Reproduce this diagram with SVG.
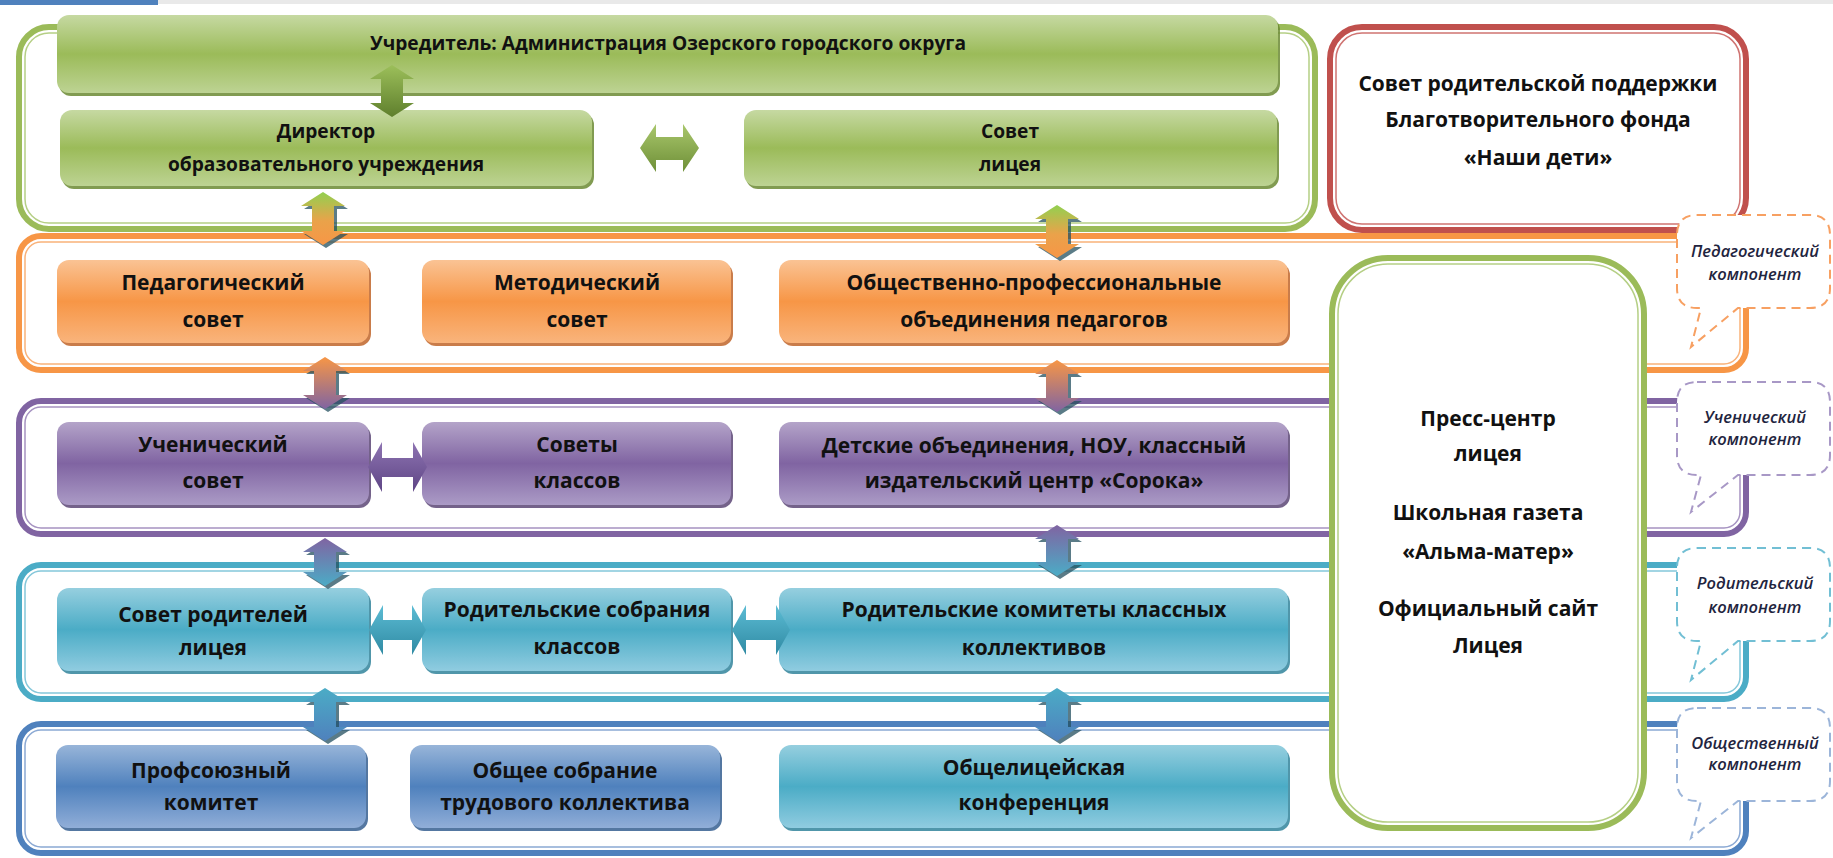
<svg xmlns="http://www.w3.org/2000/svg" width="1833" height="858" viewBox="0 0 1833 858">
<defs>
<linearGradient id="gG" x1="0" y1="0" x2="0" y2="1"><stop offset="0" stop-color="#c6d9a2"/><stop offset="0.5" stop-color="#9bbb59"/><stop offset="1" stop-color="#bdd393"/></linearGradient>
<linearGradient id="gO" x1="0" y1="0" x2="0" y2="1"><stop offset="0" stop-color="#fac394"/><stop offset="0.5" stop-color="#f79646"/><stop offset="1" stop-color="#f9b47c"/></linearGradient>
<linearGradient id="gP" x1="0" y1="0" x2="0" y2="1"><stop offset="0" stop-color="#b4a4c9"/><stop offset="0.5" stop-color="#8064a2"/><stop offset="1" stop-color="#ab9bc6"/></linearGradient>
<linearGradient id="gT" x1="0" y1="0" x2="0" y2="1"><stop offset="0" stop-color="#96cfdf"/><stop offset="0.5" stop-color="#4bacc6"/><stop offset="1" stop-color="#90cce0"/></linearGradient>
<linearGradient id="gB" x1="0" y1="0" x2="0" y2="1"><stop offset="0" stop-color="#98b5d9"/><stop offset="0.5" stop-color="#4f81bd"/><stop offset="1" stop-color="#91aed8"/></linearGradient>
<linearGradient id="aGd" x1="0" y1="0" x2="0" y2="1"><stop offset="0" stop-color="#9cbf5a"/><stop offset="1" stop-color="#5f7f2d"/></linearGradient>
<linearGradient id="aGh" x1="0" y1="0" x2="0" y2="1"><stop offset="0" stop-color="#a9c76c"/><stop offset="1" stop-color="#6e8f37"/></linearGradient>
<linearGradient id="aGO" x1="0" y1="0" x2="0" y2="1"><stop offset="0" stop-color="#92d050"/><stop offset="0.55" stop-color="#eaa24a"/><stop offset="1" stop-color="#f79646"/></linearGradient>
<linearGradient id="aOP" x1="0" y1="0" x2="0" y2="1"><stop offset="0" stop-color="#f79646"/><stop offset="1" stop-color="#8064a2"/></linearGradient>
<linearGradient id="aPT" x1="0" y1="0" x2="0" y2="1"><stop offset="0" stop-color="#8064a2"/><stop offset="1" stop-color="#4bacc6"/></linearGradient>
<linearGradient id="aTB" x1="0" y1="0" x2="0" y2="1"><stop offset="0" stop-color="#4bacc6"/><stop offset="1" stop-color="#4f81bd"/></linearGradient>
<linearGradient id="aPh" x1="0" y1="0" x2="0" y2="1"><stop offset="0" stop-color="#8e74b2"/><stop offset="1" stop-color="#5e4585"/></linearGradient>
<linearGradient id="aTh" x1="0" y1="0" x2="0" y2="1"><stop offset="0" stop-color="#5cbcd4"/><stop offset="1" stop-color="#2f8aa3"/></linearGradient>
<style>
.t{font-family:"Open Sans","Liberation Sans",sans-serif;font-weight:700;font-size:21px;fill:#111;text-anchor:middle}
.ts{font-size:19.2px}
.ti{font-family:"Open Sans","Liberation Sans",sans-serif;font-style:italic;font-weight:600;font-size:16.5px;fill:#1f2540;text-anchor:middle}
.fo{fill:none;stroke-width:6}
.fi{fill:none;stroke-width:1.5}
.sh{opacity:0.85}
.ash{fill:#24505f;opacity:0.75}
.co{fill:#fff;stroke-width:2;stroke-dasharray:9 6}
</style>
</defs>
<rect x="0" y="0" width="1833" height="858" fill="#fff"/>
<rect x="0" y="0" width="1833" height="4" fill="#e9e9e9"/>
<rect x="0" y="0" width="158" height="5" fill="#4f81bd"/>

<g id="frames">
<g id="frame-green"><rect class="fo" x="19" y="27" width="1296" height="202" rx="30" stroke="#9bbb59"/><rect class="fi" x="25" y="33" width="1284" height="190" rx="24" stroke="#b5cf85"/></g>
<g id="frame-red"><rect class="fo" x="1330" y="27" width="416" height="203" rx="32" stroke="#c0504d"/><rect class="fi" x="1336" y="33" width="404" height="191" rx="26" stroke="#cf7472"/></g>
<g id="frame-orange"><rect class="fo" x="19" y="236" width="1727" height="134" rx="22" stroke="#f79646"/><rect class="fi" x="25" y="242" width="1715" height="122" rx="16" stroke="#f9b27a"/></g>
<g id="frame-purple"><rect class="fo" x="19" y="401" width="1727" height="133" rx="22" stroke="#8064a2"/><rect class="fi" x="25" y="407" width="1715" height="121" rx="16" stroke="#a693c1"/></g>
<g id="frame-teal"><rect class="fo" x="19" y="565" width="1727" height="134" rx="22" stroke="#4bacc6"/><rect class="fi" x="25" y="571" width="1715" height="122" rx="16" stroke="#84c7da"/></g>
<g id="frame-blue"><rect class="fo" x="19" y="724" width="1727" height="129" rx="22" stroke="#4f81bd"/><rect class="fi" x="25" y="730" width="1715" height="117" rx="16" stroke="#8ba9d4"/></g>
</g>

<g id="press">
<rect x="1332" y="258" width="312" height="570" rx="56" fill="#fff" stroke="#9bbb59" stroke-width="6"/>
<rect class="fi" x="1338" y="264" width="300" height="558" rx="50" stroke="#b5cf85"/>
<text class="t" x="1488" y="426">Пресс-центр</text>
<text class="t" x="1488" y="461">лицея</text>
<text class="t" x="1488" y="520">Школьная газета</text>
<text class="t" x="1488" y="559">«Альма-матер»</text>
<text class="t" x="1488" y="616">Официальный сайт</text>
<text class="t" x="1488" y="653">Лицея</text>
</g>

<g id="red-node">
<text class="t" x="1538" y="91">Совет родительской поддержки</text>
<text class="t" x="1538" y="127">Благотворительного фонда</text>
<text class="t" x="1538" y="165">«Наши дети»</text>
</g>

<g id="callouts">
<g id="callout-ped"><path class="co" stroke="#f7a062" d="M1697,215 H1810 Q1830,215 1830,235 V288 Q1830,308 1810,308 H1738 L1691,347 L1701,308 H1697 Q1677,308 1677,288 V235 Q1677,215 1697,215 Z"/>
<text class="ti" x="1755" y="257">Педагогический</text><text class="ti" x="1755" y="280">компонент</text></g>
<g id="callout-uch"><path class="co" stroke="#a898c6" d="M1697,382 H1810 Q1830,382 1830,402 V455 Q1830,475 1810,475 H1738 L1691,512 L1701,475 H1697 Q1677,475 1677,455 V402 Q1677,382 1697,382 Z"/>
<text class="ti" x="1755" y="423">Ученический</text><text class="ti" x="1755" y="445">компонент</text></g>
<g id="callout-rod"><path class="co" stroke="#72bfd4" d="M1697,548 H1810 Q1830,548 1830,568 V621 Q1830,641 1810,641 H1738 L1691,680 L1701,641 H1697 Q1677,641 1677,621 V568 Q1677,548 1697,548 Z"/>
<text class="ti" x="1755" y="589">Родительский</text><text class="ti" x="1755" y="613">компонент</text></g>
<g id="callout-obsh"><path class="co" stroke="#9cb5d9" d="M1697,708 H1810 Q1830,708 1830,728 V781 Q1830,801 1810,801 H1738 L1691,838 L1701,801 H1697 Q1677,801 1677,781 V728 Q1677,708 1697,708 Z"/>
<text class="ti" x="1755" y="749">Общественный</text><text class="ti" x="1755" y="770">компонент</text></g>
</g>

<g id="n-uchreditel"><rect class="sh" x="59" y="18" width="1221" height="78" rx="12" fill="#6b8a33"/><rect x="57" y="15" width="1221" height="78" rx="12" fill="url(#gG)"/>
<text class="t ts" x="668" y="50">Учредитель: Администрация Озерского городского округа</text></g>
<g id="n-director"><rect class="sh" x="62" y="113" width="532" height="76" rx="12" fill="#6b8a33"/><rect x="60" y="110" width="532" height="76" rx="12" fill="url(#gG)"/>
<text class="t ts" x="326" y="138">Директор</text><text class="t ts" x="326" y="171">образовательного учреждения</text></g>
<g id="n-sovet-liceya"><rect class="sh" x="746" y="113" width="533" height="76" rx="12" fill="#6b8a33"/><rect x="744" y="110" width="533" height="76" rx="12" fill="url(#gG)"/>
<text class="t ts" x="1010" y="138">Совет</text><text class="t ts" x="1010" y="171">лицея</text></g>

<g id="n-ped"><rect class="sh" x="59" y="263" width="312" height="83" rx="12" fill="#c0652a"/><rect x="57" y="260" width="312" height="83" rx="12" fill="url(#gO)"/>
<text class="t" x="213" y="290">Педагогический</text><text class="t" x="213" y="327">совет</text></g>
<g id="n-metod"><rect class="sh" x="424" y="263" width="309" height="83" rx="12" fill="#c0652a"/><rect x="422" y="260" width="309" height="83" rx="12" fill="url(#gO)"/>
<text class="t" x="577" y="290">Методический</text><text class="t" x="577" y="327">совет</text></g>
<g id="n-obprof"><rect class="sh" x="781" y="263" width="509" height="83" rx="12" fill="#c0652a"/><rect x="779" y="260" width="509" height="83" rx="12" fill="url(#gO)"/>
<text class="t" x="1034" y="290">Общественно-профессиональные</text><text class="t" x="1034" y="327">объединения педагогов</text></g>

<g id="n-uchsovet"><rect class="sh" x="59" y="425" width="312" height="83" rx="12" fill="#5c4776"/><rect x="57" y="422" width="312" height="83" rx="12" fill="url(#gP)"/>
<text class="t" x="213" y="452">Ученический</text><text class="t" x="213" y="488">совет</text></g>
<g id="n-sovklass"><rect class="sh" x="424" y="425" width="309" height="83" rx="12" fill="#5c4776"/><rect x="422" y="422" width="309" height="83" rx="12" fill="url(#gP)"/>
<text class="t" x="577" y="452">Советы</text><text class="t" x="577" y="488">классов</text></g>
<g id="n-detskie"><rect class="sh" x="781" y="425" width="509" height="83" rx="12" fill="#5c4776"/><rect x="779" y="422" width="509" height="83" rx="12" fill="url(#gP)"/>
<text class="t" x="1034" y="453">Детские объединения, НОУ, классный</text><text class="t" x="1034" y="488">издательский центр «Сорока»</text></g>

<g id="n-sovrod"><rect class="sh" x="59" y="591" width="312" height="83" rx="12" fill="#31849b"/><rect x="57" y="588" width="312" height="83" rx="12" fill="url(#gT)"/>
<text class="t" x="213" y="622">Совет родителей</text><text class="t" x="213" y="655">лицея</text></g>
<g id="n-rodsobr"><rect class="sh" x="424" y="591" width="309" height="83" rx="12" fill="#31849b"/><rect x="422" y="588" width="309" height="83" rx="12" fill="url(#gT)"/>
<text class="t" x="577" y="617">Родительские собрания</text><text class="t" x="577" y="654">классов</text></g>
<g id="n-rodkom"><rect class="sh" x="781" y="591" width="509" height="83" rx="12" fill="#31849b"/><rect x="779" y="588" width="509" height="83" rx="12" fill="url(#gT)"/>
<text class="t" x="1034" y="617">Родительские комитеты классных</text><text class="t" x="1034" y="655">коллективов</text></g>

<g id="n-profsoyuz"><rect class="sh" x="58" y="748" width="310" height="83" rx="12" fill="#365f91"/><rect x="56" y="745" width="310" height="83" rx="12" fill="url(#gB)"/>
<text class="t" x="211" y="778">Профсоюзный</text><text class="t" x="211" y="810">комитет</text></g>
<g id="n-obshee"><rect class="sh" x="412" y="748" width="310" height="83" rx="12" fill="#365f91"/><rect x="410" y="745" width="310" height="83" rx="12" fill="url(#gB)"/>
<text class="t" x="565" y="778">Общее собрание</text><text class="t" x="565" y="810">трудового коллектива</text></g>
<g id="n-konf"><rect class="sh" x="781" y="748" width="509" height="83" rx="12" fill="#31849b"/><rect x="779" y="745" width="509" height="83" rx="12" fill="url(#gT)"/>
<text class="t" x="1034" y="775">Общелицейская</text><text class="t" x="1034" y="810">конференция</text></g>

<g id="connectors">
<path fill="url(#aGd)" d="M392,65 L414,79 L403,79 L403,103 L414,103 L392,117 L370,103 L381,103 L381,79 L370,79 Z"/>
<path fill="url(#aGh)" d="M640,148 L656,124 L656,137 L683,137 L683,124 L699,148 L683,172 L683,160 L656,160 L656,172 Z"/>
<g transform="translate(3,3)" class="ash">
<path d="M323,192 L345,206 L334,206 L334,231 L345,231 L323,245 L301,231 L312,231 L312,206 L301,206 Z"/>
<path d="M1057,205 L1079,219 L1068,219 L1068,244 L1079,244 L1057,258 L1035,244 L1046,244 L1046,219 L1035,219 Z"/>
<path d="M325,357 L347,371 L336,371 L336,395 L347,395 L325,409 L303,395 L314,395 L314,371 L303,371 Z"/>
<path d="M1057,360 L1079,374 L1068,374 L1068,398 L1079,398 L1057,412 L1035,398 L1046,398 L1046,374 L1035,374 Z"/>
<path d="M325,538 L347,552 L336,552 L336,572 L347,572 L325,586 L303,572 L314,572 L314,552 L303,552 Z"/>
<path d="M1057,525 L1079,539 L1068,539 L1068,562 L1079,562 L1057,576 L1035,562 L1046,562 L1046,539 L1035,539 Z"/>
<path d="M325,688 L347,702 L336,702 L336,727 L347,727 L325,741 L303,727 L314,727 L314,702 L303,702 Z"/>
<path d="M1057,688 L1079,702 L1068,702 L1068,727 L1079,727 L1057,741 L1035,727 L1046,727 L1046,702 L1035,702 Z"/>
</g>
<path fill="url(#aGO)" d="M323,192 L345,206 L334,206 L334,231 L345,231 L323,245 L301,231 L312,231 L312,206 L301,206 Z"/>
<path fill="url(#aGO)" d="M1057,205 L1079,219 L1068,219 L1068,244 L1079,244 L1057,258 L1035,244 L1046,244 L1046,219 L1035,219 Z"/>
<path fill="url(#aOP)" d="M325,357 L347,371 L336,371 L336,395 L347,395 L325,409 L303,395 L314,395 L314,371 L303,371 Z"/>
<path fill="url(#aOP)" d="M1057,360 L1079,374 L1068,374 L1068,398 L1079,398 L1057,412 L1035,398 L1046,398 L1046,374 L1035,374 Z"/>
<path fill="url(#aPT)" d="M325,538 L347,552 L336,552 L336,572 L347,572 L325,586 L303,572 L314,572 L314,552 L303,552 Z"/>
<path fill="url(#aPT)" d="M1057,525 L1079,539 L1068,539 L1068,562 L1079,562 L1057,576 L1035,562 L1046,562 L1046,539 L1035,539 Z"/>
<path fill="url(#aTB)" d="M325,688 L347,702 L336,702 L336,727 L347,727 L325,741 L303,727 L314,727 L314,702 L303,702 Z"/>
<path fill="url(#aTB)" d="M1057,688 L1079,702 L1068,702 L1068,727 L1079,727 L1057,741 L1035,727 L1046,727 L1046,702 L1035,702 Z"/>
<path fill="url(#aPh)" d="M368,467 L382,442 L382,458 L413,458 L413,442 L427,467 L413,492 L413,477 L382,477 L382,492 Z"/>
<path fill="url(#aTh)" d="M369,630 L383,605 L383,620 L412,620 L412,605 L426,630 L412,655 L412,640 L383,640 L383,655 Z"/>
<path fill="url(#aTh)" d="M732,630 L746,605 L746,620 L776,620 L776,605 L790,630 L776,655 L776,640 L746,640 L746,655 Z"/>
</g>
</svg>
